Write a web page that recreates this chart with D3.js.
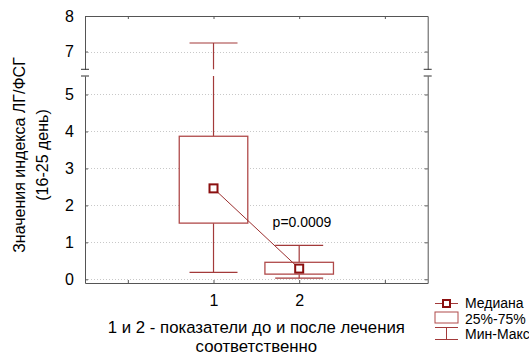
<!DOCTYPE html>
<html>
<head>
<meta charset="utf-8">
<script src="https://cdn.jsdelivr.net/npm/d3@7"></script>
<style>
  body { margin: 0; background: #fff; }
  svg { display: block; font-family: "Liberation Sans", Arial, sans-serif; }
</style>
</head>
<body>
<div id="chart"></div>
<script>
(function () {
  'use strict';

  // data
  var groups = [1, 2];
  var mins = [0.19, 0.03];
  var q1s = [1.52, 0.14];
  var medians = [2.46, 0.29];
  var q3s = [3.87, 0.46];
  var maxs = [7.24, 0.92];
  var lowTicks = [0, 1, 2, 3, 4, 5];
  var highTicks = [7, 8];
  var xTicks = [0, 1, 2, 3];
  var xLabels = ['', '1', '2', ''];
  var pText = 'p=0.0009';
  var legendItems = ['Медиана', '25%-75%', 'Мин-Макс'];

  var W = 529, H = 356;
  var left = 85, right = 427.7, top = 16, bottom = 283;
  var breakHi = 69.3, breakLo = 76;
  var boxColor = '#b04a4a', whiskColor = '#a33a3a', medColor = '#8b1010';

  var svg = d3.select('#chart').append('svg')
    .attr('width', W).attr('height', H);

  var x = d3.scaleLinear().domain([-0.5, 3.5]).range([left, right]);
  var yLow = d3.scaleLinear().domain([-0.1, 5.5]).range([bottom, breakLo]);
  var yHigh = d3.scaleLinear().domain([6.5, 8]).range([breakHi, top]);
  function y(v) { return v > 6 ? yHigh(v) : yLow(v); }

  // gridlines
  var grid = svg.append('g');
  lowTicks.concat([7]).forEach(function (t) {
    grid.append('line')
      .attr('x1', left).attr('x2', right)
      .attr('y1', Math.round(y(t)) + 0.5).attr('y2', Math.round(y(t)) + 0.5)
      .attr('stroke', '#c8c8c8').attr('stroke-dasharray', '1,2');
  });

  // axes (ticks pointing inward)
  function styleAxis(g) {
    g.select('.domain').attr('stroke', '#555');
    g.selectAll('.tick line').attr('stroke', '#555');
    g.selectAll('.tick text').attr('fill', '#000').attr('font-size', 16);
  }
  var fmt = d3.format('d');
  svg.append('g').attr('transform', 'translate(' + left + ',0)')
    .call(d3.axisLeft(yLow).tickValues(lowTicks).tickFormat(fmt).tickSize(-3).tickPadding(11).tickSizeOuter(0))
    .call(styleAxis);
  svg.append('g').attr('transform', 'translate(' + left + ',0)')
    .call(d3.axisLeft(yHigh).tickValues(highTicks).tickFormat(fmt).tickSize(-3).tickPadding(11).tickSizeOuter(0))
    .call(styleAxis);
  svg.append('g').attr('transform', 'translate(' + right + ',0)')
    .call(d3.axisRight(yLow).tickValues(lowTicks).tickSize(-3).tickFormat('').tickSizeOuter(0))
    .call(styleAxis);
  svg.append('g').attr('transform', 'translate(' + right + ',0)')
    .call(d3.axisRight(yHigh).tickValues(highTicks).tickSize(-3).tickFormat('').tickSizeOuter(0))
    .call(styleAxis);
  svg.append('g').attr('transform', 'translate(0,' + bottom + ')')
    .call(d3.axisBottom(x).tickValues(xTicks).tickSize(-3).tickPadding(12).tickSizeOuter(0)
      .tickFormat(function (d, i) { return xLabels[i]; }))
    .call(styleAxis);
  svg.append('g').attr('transform', 'translate(0,' + top + ')')
    .call(d3.axisTop(x).tickValues(xTicks).tickSize(-3).tickFormat('').tickSizeOuter(0))
    .call(styleAxis);

  // axis break marks
  [left, right].forEach(function (xx) {
    [breakHi, breakLo].forEach(function (yy) {
      svg.append('line')
        .attr('x1', xx - 4).attr('x2', xx + 4)
        .attr('y1', yy).attr('y2', yy)
        .attr('stroke', '#333');
    });
  });

  // vertical segment that skips the axis break
  function vseg(g, xx, v0, v1) {
    var a = Math.min(v0, v1), b = Math.max(v0, v1);
    var parts = [];
    if (a < 6 && b > 6) parts = [[y(a), yLow(5.5)], [yHigh(6.5), y(b)]];
    else parts = [[y(a), y(b)]];
    parts.forEach(function (p) {
      g.append('line')
        .attr('x1', xx).attr('x2', xx).attr('y1', p[0]).attr('y2', p[1])
        .attr('stroke', whiskColor).attr('stroke-width', 1.2);
    });
  }

  var capHalf = 0.28, boxHalf = 0.4;
  var plot = svg.append('g');

  groups.forEach(function (gv, i) {
    var cx = x(gv);
    vseg(plot, cx, q3s[i], maxs[i]);
    vseg(plot, cx, mins[i], q1s[i]);
    [mins[i], maxs[i]].forEach(function (v) {
      plot.append('line')
        .attr('x1', x(gv - capHalf)).attr('x2', x(gv + capHalf))
        .attr('y1', y(v)).attr('y2', y(v))
        .attr('stroke', whiskColor).attr('stroke-width', 1.2);
    });
    plot.append('rect')
      .attr('x', x(gv - boxHalf)).attr('y', y(q3s[i]))
      .attr('width', x(gv + boxHalf) - x(gv - boxHalf))
      .attr('height', y(q1s[i]) - y(q3s[i]))
      .attr('fill', '#fff').attr('stroke', boxColor).attr('stroke-width', 1.3);
  });

  // median connector
  plot.append('path')
    .datum(groups)
    .attr('d', d3.line().x(function (d) { return x(d); })
      .y(function (d, i) { return y(medians[i]); }))
    .attr('fill', 'none').attr('stroke', '#9b2f2f').attr('stroke-width', 1);

  plot.selectAll('rect.med').data(groups).enter().append('rect')
    .attr('class', 'med')
    .attr('x', function (d) { return x(d) - 4; })
    .attr('y', function (d, i) { return y(medians[i]) - 4; })
    .attr('width', 8).attr('height', 8)
    .attr('fill', '#fff').attr('stroke', medColor).attr('stroke-width', 2);

  svg.append('text')
    .attr('x', 302).attr('y', 227)
    .attr('text-anchor', 'middle').attr('font-size', 14)
    .text(pText);

  // axis titles
  var cxPlot = (left + right) / 2;
  svg.append('text').attr('x', cxPlot).attr('y', 332.5)
    .attr('text-anchor', 'middle').attr('font-size', 16.8)
    .text('1 и 2 - показатели до и после лечения');
  svg.append('text').attr('x', cxPlot).attr('y', 351.5)
    .attr('text-anchor', 'middle').attr('font-size', 16.8)
    .text('соответственно');

  var yt = svg.append('g').attr('transform', 'translate(0,155) rotate(-90)');
  yt.append('text').attr('x', 0).attr('y', 25)
    .attr('text-anchor', 'middle').attr('font-size', 16)
    .text('Значения индекса ЛГ/ФСГ');
  yt.append('text').attr('x', 0).attr('y', 48)
    .attr('text-anchor', 'middle').attr('font-size', 16)
    .text('(16-25 день)');

  // legend
  var lg = svg.append('g');
  var lx0 = 435, lx1 = 458, lmid = 446.5;
  lg.append('line').attr('x1', lx0).attr('x2', lx1).attr('y1', 303.5).attr('y2', 303.5)
    .attr('stroke', whiskColor);
  lg.append('rect').attr('x', lmid - 3.5).attr('y', 300).attr('width', 7).attr('height', 7)
    .attr('fill', '#fff').attr('stroke', medColor).attr('stroke-width', 2);
  lg.append('rect').attr('x', lx0).attr('y', 312).attr('width', lx1 - lx0).attr('height', 11)
    .attr('fill', '#fff').attr('stroke', boxColor);
  lg.append('line').attr('x1', lx0).attr('x2', lx1).attr('y1', 327.5).attr('y2', 327.5)
    .attr('stroke', whiskColor);
  lg.append('line').attr('x1', lx0).attr('x2', lx1).attr('y1', 339.5).attr('y2', 339.5)
    .attr('stroke', whiskColor);
  lg.append('line').attr('x1', lmid).attr('x2', lmid).attr('y1', 327.5).attr('y2', 339.5)
    .attr('stroke', whiskColor);
  lg.selectAll('text.leg').data(legendItems).enter().append('text')
    .attr('class', 'leg')
    .attr('x', 465).attr('y', function (d, i) { return 308 + i * 15.5; })
    .attr('font-size', 14)
    .text(function (d) { return d; });
})();
</script>
</body>
</html>
